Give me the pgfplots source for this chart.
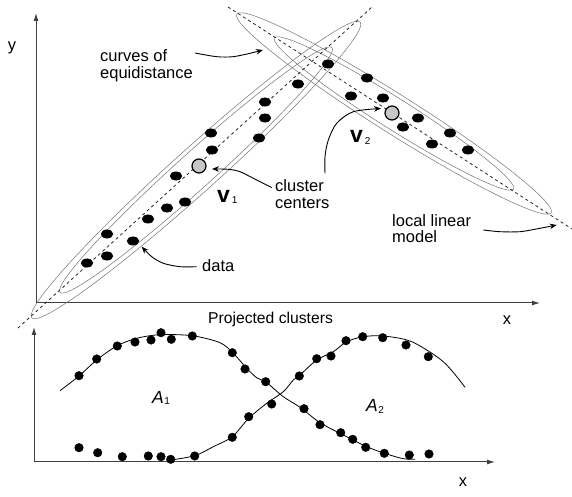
\documentclass[border=0pt]{standalone}
\usepackage{pgfplots}
\pgfplotsset{compat=1.18}
\usepackage{fontspec}
\setmainfont{Liberation Sans}
\usetikzlibrary{arrows.meta}

\newcommand{\lab}{\fontsize{16.5}{17}\selectfont}

\pgfplotsset{
  sketch/.style={
    scale only axis, clip=false,
    axis lines=left,
    xtick=\empty, ytick=\empty,
    x axis line style={line width=1pt, black!75, -{Latex[length=8pt,width=5pt]}},
    y axis line style={line width=1pt, black!75, -{Latex[length=8pt,width=5pt]}},
  },
  note/.style={smooth, line width=0.9pt, black, -{Stealth[length=7pt,width=5.5pt]}},
}

\begin{document}
\begin{tikzpicture}
\useasboundingbox (0pt,0pt) rectangle (572pt,497pt);

% ---------------- data space with two clusters ----------------
\begin{axis}[sketch,
  at={(36pt,194pt)}, anchor=south west,
  width=504pt, height=290pt,
  xmin=36, xmax=540, ymin=-303, ymax=-13]

  % curves of equidistance
  \begin{scope}[rotate around={42:(axis cs:196,-170)}]
    \draw[black!55, line width=0.5pt] (axis cs:196,-170) ellipse (221pt and 22pt);
    \draw[black!55, line width=0.5pt] (axis cs:196,-170) ellipse (183pt and 18pt);
  \end{scope}
  \begin{scope}[rotate around={-32.3:(axis cs:394,-113.5)}]
    \draw[black!55, line width=0.5pt] (axis cs:394,-113.5) ellipse (186pt and 19.5pt);
    \draw[black!55, line width=0.5pt] (axis cs:394,-113.5) ellipse (141.5pt and 15.5pt);
  \end{scope}

  % local linear models
  \addplot[black!85, line width=0.8pt, dash pattern=on 3pt off 3pt] coordinates {(18,-328) (372,-7)};
  \addplot[black!85, line width=0.8pt, dash pattern=on 3pt off 3pt] coordinates {(228,-7) (572,-229)};

  % data
  \addplot[only marks, mark=*, mark size=4.2pt, mark options={xscale=1.42, fill=black, draw=black}] coordinates {
    (265,-102) (265,-118) (259,-138) (211,-133) (212,-150) (176,-176)
    (185,-202) (167,-208) (148,-219) (107,-234) (133,-241) (107,-256)
    (87,-263) (328,-64) (298,-84) (367,-78) (351,-96) (383,-98)
    (418,-118) (403,-127) (450,-133) (432,-144) (468,-150)};

  % cluster centers
  \addplot[only marks, mark=*, mark size=7pt, mark options={fill=black!22, draw=black, line width=1.2pt}] coordinates {(199,-166) (392,-113)};

  % annotation arrows
  \addplot[note] coordinates {(195,-53) (216.7,-56.7) (233,-56.7) (250,-53.3) (263,-50)};
  \addplot[note] coordinates {(271.7,-187.5) (253.3,-178.3) (240,-171.7) (228.3,-169.3) (212,-169)};
  \addplot[note] coordinates {(325,-173.3) (325,-156.7) (328.3,-140) (336.7,-123.3) (353.3,-111.7) (381,-108.5)};
  \addplot[note] coordinates {(196.7,-266.7) (180,-266.7) (163.3,-263.3) (151.7,-256.7) (141.7,-246.7)};
  \addplot[note] coordinates {(483.3,-230) (500,-231.7) (520,-231.7) (540,-228.3) (556.7,-225)};

  % labels
  \node[anchor=base, font=\lab] at (axis cs:12,-51) {y};
  \node[anchor=base, font=\lab] at (axis cs:507,-325) {x};
  \node[anchor=base, font=\fontsize{15.7}{16}\selectfont] at (axis cs:270.5,-324) {Projected clusters};
  \node[anchor=base west, font=\lab, inner sep=0pt] at (axis cs:100,-62) {curves of};
  \node[anchor=base west, font=\lab, inner sep=0pt] at (axis cs:100,-79) {equidistance};
  \node[anchor=base west, font=\lab, inner sep=0pt] at (axis cs:275,-192) {cluster};
  \node[anchor=base west, font=\lab, inner sep=0pt] at (axis cs:275,-208.5) {centers};
  \node[anchor=base west, font=\lab, inner sep=0pt] at (axis cs:202,-272) {data};
  \node[anchor=base west, font=\lab, inner sep=0pt] at (axis cs:392,-227) {local linear};
  \node[anchor=base west, font=\lab, inner sep=0pt] at (axis cs:392,-243) {model};
  \node[anchor=base west, inner sep=0pt] at (axis cs:217,-203)
    {{\fontsize{23}{23}\selectfont\bfseries v}\kern2pt\raisebox{-1pt}{\fontsize{10}{10}\selectfont 1}};
  \node[anchor=base west, inner sep=0pt] at (axis cs:350,-143)
    {{\fontsize{23}{23}\selectfont\bfseries v}\kern2pt\raisebox{-2pt}{\fontsize{10}{10}\selectfont 2}};
\end{axis}

% ---------------- projected membership functions ----------------
\begin{axis}[sketch,
  at={(34pt,35pt)}, anchor=south west,
  width=461pt, height=135pt,
  xmin=34, xmax=495, ymin=-462, ymax=-327]

  \addplot[smooth, line width=0.8pt, black] coordinates {
    (60,-390.7) (79,-376) (96.7,-360) (116.7,-346) (136.7,-338.3) (160,-334.7)
    (192.3,-335.7) (220,-342.7) (233.3,-353.3) (246.7,-368.3) (256.7,-377.7)
    (266.7,-382.7) (283.3,-396.7) (300,-407.3) (320,-422.7) (343.3,-435)
    (366.7,-446.7) (386.7,-454) (403.3,-458.7) (415,-459.3)};
  \addplot[smooth, line width=0.8pt, black] coordinates {
    (166.7,-460.7) (194.7,-455.7) (213.3,-446.7) (232.3,-436.7) (248.7,-418.3)
    (266.7,-403.3) (283.3,-391.7) (293.3,-380) (300,-375) (316.7,-360)
    (333.3,-351.7) (346.7,-341.7) (363.3,-336.7) (383.3,-336) (411.7,-341.7)
    (443.3,-361.7) (465,-387.3)};

  \addplot[only marks, mark=*, mark size=4.3pt, mark options={fill=black}] coordinates {
    (79,-375.7) (96.7,-359) (117.3,-346) (135,-342) (151,-340) (161,-332.7)
    (171.3,-339.3) (192.3,-336) (232.3,-352.7) (245,-369) (265.7,-381.7)
    (304,-408.7) (320,-424.7) (340.7,-432.7) (352.7,-439.3) (365.7,-447.3)
    (384.3,-453.3) (409.3,-455) (429,-454)};
  \addplot[only marks, mark=*, mark size=4.3pt, mark options={fill=black}] coordinates {
    (79,-447.7) (97.7,-452.7) (122.3,-456.7) (148.3,-456) (161,-456.7)
    (170.7,-459.3) (194.7,-456) (232.3,-437.3) (248.7,-416.7) (271.7,-404)
    (299.3,-376) (316.7,-358.7) (331,-356) (346,-340.7) (362.7,-336.7)
    (382.7,-337.7) (406,-345) (428.3,-356.7)};

  \node[anchor=base, font=\lab] at (axis cs:463,-487) {x};
  \node[anchor=base west, inner sep=0pt] at (axis cs:152,-403.3)
    {{\fontsize{17.5}{18}\selectfont\itshape A}\kern0.5pt\raisebox{-1.5pt}{\fontsize{10}{10}\selectfont 1}};
  \node[anchor=base west, inner sep=0pt] at (axis cs:366,-411.7)
    {{\fontsize{17.5}{18}\selectfont\itshape A}\kern0.5pt\raisebox{-2pt}{\fontsize{10}{10}\selectfont 2}};
\end{axis}
\end{tikzpicture}
\end{document}
